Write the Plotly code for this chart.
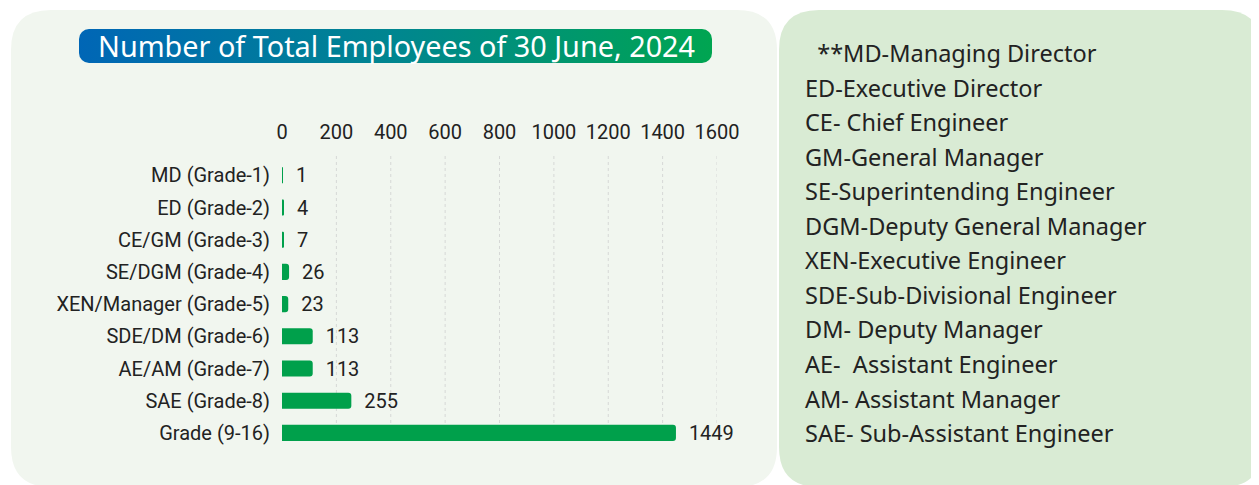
import base64
import plotly.graph_objects as go

# ---------------- data ----------------
categories = ["MD (Grade-1)", "ED (Grade-2)", "CE/GM (Grade-3)", "SE/DGM (Grade-4)",
              "XEN/Manager (Grade-5)", "SDE/DM (Grade-6)", "AE/AM (Grade-7)",
              "SAE (Grade-8)", "Grade (9-16)"]
employees = [1, 4, 7, 26, 23, 113, 113, 255, 1449]
x_ticks = [0, 200, 400, 600, 800, 1000, 1200, 1400, 1600]
title_text = "Number of Total Employees of 30 June, 2024"
glossary = ["\u00a0\u00a0**MD-Managing Director", "ED-Executive Director", "CE- Chief Engineer",
            "GM-General Manager", "SE-Superintending Engineer", "DGM-Deputy General Manager",
            "XEN-Executive Engineer", "SDE-Sub-Divisional Engineer", "DM- Deputy Manager",
            "AE-\u00a0 Assistant Engineer", "AM- Assistant Manager", "SAE- Sub-Assistant Engineer"]

# ---------------- layout geometry ----------------
# the page body adds an 8px margin, so the figure is offset by 8px in the window
OFF = 8
W, H = 1259 - OFF, 485 - OFF
PLOT_X0, PLOT_X1 = 282 - OFF, 717 - OFF     # window px of x=0 and x=1600
PLOT_Y0, PLOT_Y1 = 156 - OFF, 449 - OFF
L, R, T, B = PLOT_X0, W - PLOT_X1, PLOT_Y0, H - PLOT_Y1
PW, PH = W - L - R, H - T - B


def xp(px):
    """window pixel -> paper x"""
    return (px - OFF - L) / PW


def yp(py):
    """window pixel -> paper y"""
    return 1 - (py - OFF - T) / PH


def rounded_path(x0, y0, x1, y1, r):
    X0, X1 = xp(x0), xp(x1)
    Y0, Y1 = yp(y0), yp(y1)
    rx = r / PW
    ry = r / PH
    return (f"M {X0+rx},{Y0} L {X1-rx},{Y0} Q {X1},{Y0} {X1},{Y0-ry} "
            f"L {X1},{Y1+ry} Q {X1},{Y1} {X1-rx},{Y1} L {X0+rx},{Y1} "
            f"Q {X0},{Y1} {X0},{Y1+ry} L {X0},{Y0-ry} Q {X0},{Y0} {X0+rx},{Y0} Z")


GREEN = "#00A04B"
TEXT = "#222222"

fig = go.Figure()
fig.add_trace(go.Bar(
    y=categories, x=employees, orientation="h",
    marker=dict(color=GREEN, cornerradius=3, line=dict(width=0)),
    width=0.5,
    text=employees, texttemplate="\u00a0\u00a0%{x}", textposition="outside",
    constraintext="none",
    textfont=dict(family="Roboto", size=20, color=TEXT),
    cliponaxis=False, hoverinfo="skip",
))

shapes = []
shapes.append(dict(type="path", xref="paper", yref="paper", layer="below",
                   path=rounded_path(11, 10, 777, 487, 40),
                   fillcolor="#F1F6EF", line=dict(width=0)))
shapes.append(dict(type="path", xref="paper", yref="paper", layer="below",
                   path=rounded_path(779, 10, 1262, 487, 40),
                   fillcolor="#D9EBD4", line=dict(width=0)))
for v in x_ticks[1:]:
    shapes.append(dict(type="line", xref="x", yref="y", layer="below",
                       x0=v, x1=v, y0=-0.6, y1=len(categories) - 1 - 0.25,
                       line=dict(color="#D6D8D6", width=1, dash="dot")))

PILL_X0, PILL_X1, PILL_Y0, PILL_Y1 = 79, 712, 29, 63
pw, ph = PILL_X1 - PILL_X0, PILL_Y1 - PILL_Y0
svg = (f'<svg xmlns="http://www.w3.org/2000/svg" width="{pw}" height="{ph}" viewBox="0 0 {pw} {ph}">'
       '<defs><linearGradient id="g" x1="0" y1="0" x2="1" y2="0">'
       '<stop offset="0" stop-color="#0066B6"/><stop offset="0.5" stop-color="#00868F"/>'
       '<stop offset="1" stop-color="#00A551"/>'
       '</linearGradient></defs>'
       f'<rect x="0" y="0" width="{pw}" height="{ph}" rx="10" ry="10" fill="url(#g)"/></svg>')
src = "data:image/svg+xml;base64," + base64.b64encode(svg.encode()).decode()
images = [dict(source=src, xref="paper", yref="paper", x=xp(PILL_X0), y=yp(PILL_Y0),
               sizex=pw / PW, sizey=ph / PH, xanchor="left", yanchor="top",
               sizing="stretch", layer="above")]

annotations = [dict(text=title_text, xref="paper", yref="paper",
                    x=xp((PILL_X0 + PILL_X1) / 2 + 1), y=yp((PILL_Y0 + PILL_Y1) / 2),
                    xanchor="center", yanchor="middle", showarrow=False,
                    font=dict(family="Noto Sans", size=28.8, color="white"))]
for i, line in enumerate(glossary):
    annotations.append(dict(text=line, xref="paper", yref="paper", x=xp(803),
                            y=yp(53 + i * 34.55), xanchor="left", yanchor="middle",
                            showarrow=False,
                            font=dict(family="Noto Sans", size=23.5, color=TEXT)))

fig.update_layout(
    width=W, height=H,
    margin=dict(l=L, r=R, t=T, b=B, autoexpand=False),
    paper_bgcolor="white", plot_bgcolor="rgba(0,0,0,0)",
    showlegend=False,
    shapes=shapes, images=images, annotations=annotations,
    xaxis=dict(side="top", range=[0, 1600], tickvals=x_ticks, showgrid=False,
               zeroline=False, showline=False, ticks="outside", ticklen=8,
               tickcolor="rgba(0,0,0,0)",
               tickfont=dict(family="Roboto", size=20, color=TEXT), fixedrange=True),
    yaxis=dict(type="category", categoryorder="array", categoryarray=categories,
               range=[len(categories) - 0.5, -0.6], showgrid=False, zeroline=False,
               showline=False, ticks="outside", ticklen=7, tickcolor="rgba(0,0,0,0)",
               tickfont=dict(family="Roboto", size=20, color=TEXT), fixedrange=True),
)

fig.write_html("out.html")
